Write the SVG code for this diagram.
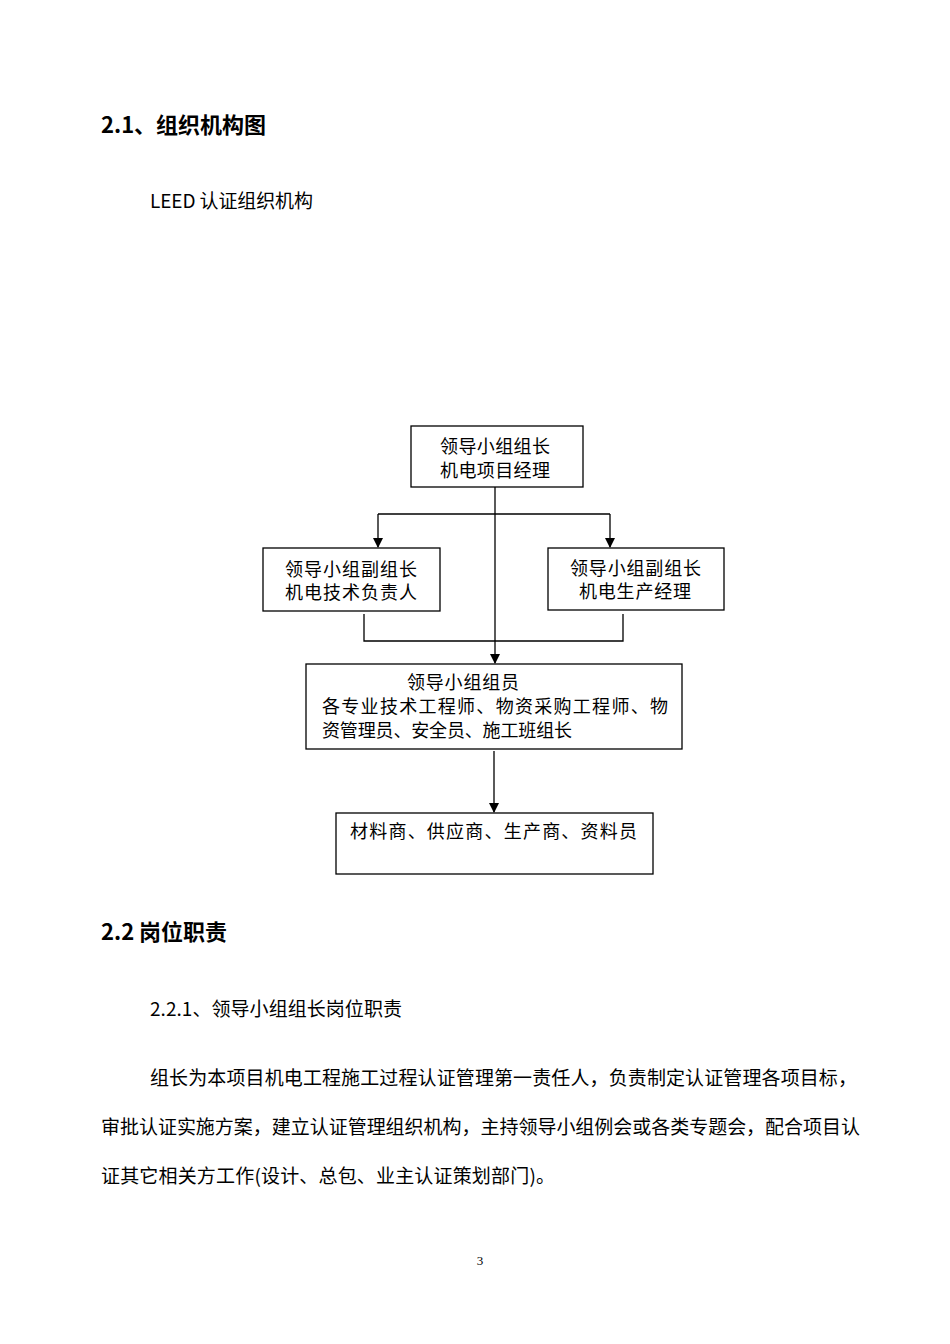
<svg xmlns="http://www.w3.org/2000/svg" width="950" height="1344" viewBox="0 0 950 1344">
<style>
.h{font-family:"Noto Sans CJK SC","Liberation Sans",sans-serif;font-weight:bold;font-size:22px;fill:#000}
.b{font-family:"Noto Sans CJK SC","Liberation Sans",sans-serif;font-size:19px;fill:#000}
.t{font-family:"Liberation Serif","Noto Sans CJK SC",serif;font-size:18px;fill:#000}
.box{fill:#fff;stroke:#000;stroke-width:1.3}
.ln{fill:none;stroke:#000;stroke-width:1.3}
</style>
<defs>
<marker id="a" markerWidth="10" markerHeight="10" refX="9" refY="5" orient="auto" markerUnits="userSpaceOnUse" viewBox="0 0 10 10">
<path d="M0,0 L10,5 L0,10 Z" fill="#000"/>
</marker>
</defs>
<rect width="950" height="1344" fill="#fff"/>
<text class="h" x="101" y="133">2.1、组织机构图</text>
<text class="b" x="150" y="208" textLength="163">LEED 认证组织机构</text>

<g id="connectors">
<path class="ln" d="M495,487 V663" marker-end="url(#a)"/>
<path class="ln" d="M378,514 H610"/>
<path class="ln" d="M378,514 V547" marker-end="url(#a)"/>
<path class="ln" d="M610,514 V547" marker-end="url(#a)"/>
<path class="ln" d="M364,614 V641 H623 V614"/>
<path class="ln" d="M494,751 V812" marker-end="url(#a)"/>
</g>

<g id="n1">
<rect class="box" x="411" y="426" width="172" height="61"/>
<text class="t" x="440" y="453" textLength="110">领导小组组长</text>
<text class="t" x="440" y="477" textLength="110">机电项目经理</text>
</g>
<g id="n2">
<rect class="box" x="263" y="548" width="177" height="63"/>
<text class="t" x="285" y="576" textLength="132">领导小组副组长</text>
<text class="t" x="285" y="599" textLength="132">机电技术负责人</text>
</g>
<g id="n3">
<rect class="box" x="548" y="548" width="176" height="62"/>
<text class="t" x="570" y="575" textLength="131">领导小组副组长</text>
<text class="t" x="579" y="598" textLength="112">机电生产经理</text>
</g>
<g id="n4">
<rect class="box" x="306" y="664" width="376" height="85"/>
<text class="t" x="407" y="689" textLength="112">领导小组组员</text>
<text class="t" x="322" y="713" textLength="346">各专业技术工程师、物资采购工程师、物</text>
<text class="t" x="322" y="737" textLength="250">资管理员、安全员、施工班组长</text>
</g>
<g id="n5">
<rect class="box" x="336" y="813" width="317" height="61"/>
<text class="t" x="350" y="838" textLength="287">材料商、供应商、生产商、资料员</text>
</g>

<text class="h" x="101" y="940">2.2 岗位职责</text>
<text class="b" x="150" y="1016" textLength="252">2.2.1、领导小组组长岗位职责</text>
<text class="b" x="150" y="1085" textLength="707">组长为本项目机电工程施工过程认证管理第一责任人，负责制定认证管理各项目标，</text>
<text class="b" x="101" y="1134" textLength="759">审批认证实施方案，建立认证管理组织机构，主持领导小组例会或各类专题会，配合项目认</text>
<text class="b" x="101" y="1183" textLength="454">证其它相关方工作(设计、总包、业主认证策划部门)。</text>
<text x="480" y="1265" font-family="Liberation Serif,serif" font-size="13" text-anchor="middle">3</text>
</svg>
